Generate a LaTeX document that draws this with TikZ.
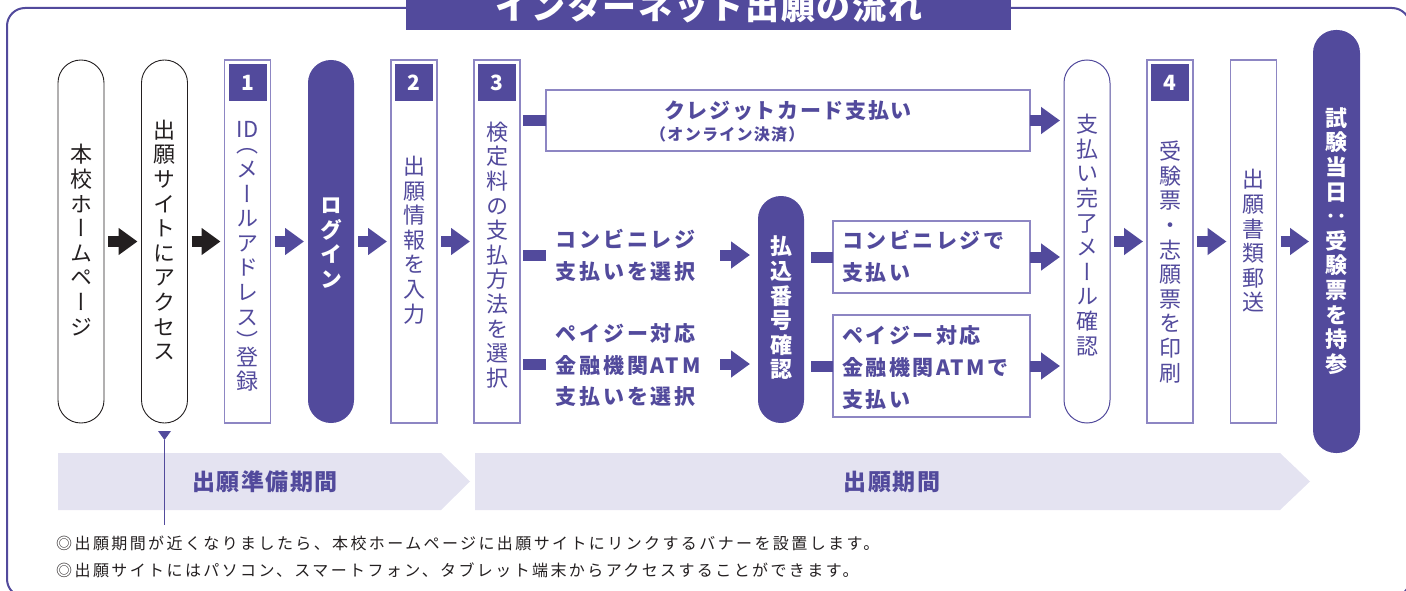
\documentclass[tikz,border=0pt]{standalone}
\usepackage{fontspec}
\setmainfont{Noto Sans CJK JP}
\newfontfamily\vjp{Noto Sans CJK JP}[RawFeature=+vert]
\usetikzlibrary{arrows.meta}
\definecolor{pcol}{HTML}{524A9C}
\definecolor{pline}{HTML}{8D86C3}
\definecolor{band}{HTML}{E4E3F1}
\definecolor{ink}{HTML}{231F20}
\tikzset{
  col/.style={minimum width=46pt, minimum height=363pt, inner sep=0pt, outer sep=0pt},
  pillw/.style={col, draw=ink, line width=0.9pt, fill=white, rounded corners=22.9pt},
  pillp/.style={col, fill=pcol, rounded corners=22.9pt},
  pillo/.style={col, draw=pcol, line width=1pt, fill=white, rounded corners=22.9pt},
  boxp/.style={col, draw=pline, line width=1.2pt, fill=white},
  hbox/.style={draw=pline, line width=1.2pt, fill=white, inner sep=0pt, outer sep=0pt},
  numbox/.style={fill=pcol, text=white, minimum width=38pt, minimum height=37pt, inner sep=0pt, font=\bfseries\fontsize{21}{21}\selectfont},
  vtext/.style={font=\vjp\fontsize{22}{24.6}\selectfont, align=center, inner sep=0pt},
  vbold/.style={font=\vjp\bfseries\fontsize{22}{24.6}\selectfont, align=center, inner sep=0pt, text=white},
  htext/.style={font=\bfseries\fontsize{21}{31.5}\selectfont\addfontfeature{LetterSpace=14}, align=left, inner sep=0pt, text=pcol},
  bandtext/.style={font=\bfseries\fontsize{23}{23}\selectfont\addfontfeature{LetterSpace=6}, inner sep=0pt, text=pcol},
  notetext/.style={font=\fontsize{16}{18}\selectfont\addfontfeature{LetterSpace=15}, inner sep=0pt, text=ink, anchor=west},
  barrow/.style={line width=11pt, -{Triangle[length=19pt,width=26pt]}, shorten <=4pt, shorten >=4pt},
  stub/.style={pcol, line width=11pt},
}
\begin{document}
\begin{tikzpicture}[x=1pt,y=-1pt]
\useasboundingbox (0,0) rectangle (1406,591);
% outer frame and title
\draw[pcol, line width=2pt, rounded corners=18pt] (7,8) rectangle (1410,597);
\fill[pcol] (406,-5) rectangle (1011,30);
\node[font=\bfseries\fontsize{34}{34}\selectfont\addfontfeature{LetterSpace=5}, text=white, anchor=base, inner sep=0pt] (title) at (709,20) {インターネット出願の流れ};

% phase bands
\fill[band] (58,453) -- (441,453) -- (470,481.5) -- (441,510) -- (58,510) -- cycle;
\fill[band] (475,453) -- (1280,453) -- (1310,481.5) -- (1280,510) -- (475,510) -- cycle;
\node[bandtext] (band1) at (265,481.5) {出願準備期間};
\node[bandtext] (band2) at (892,481.5) {出願期間};

% columns
\node[pillw] (p1) at (81,241.5) {};
\node[vtext, text=ink] (t1) at (81,240) {本\\校\\ホ\\ー\\ム\\ペ\\ー\\ジ};
\node[pillw] (p2) at (164.5,241.5) {};
\node[vtext, text=ink] (t2) at (164.5,240) {出\\願\\サ\\イ\\ト\\に\\ア\\ク\\セ\\ス};

\node[boxp] (b1) at (247.5,241.5) {};
\node[numbox, anchor=north] (n1) at ([yshift=-4pt]b1.north) {1};
\node[vtext, text=pcol, anchor=north] (t3) at (247.5,121) {ID\\[-9pt]（\\メ\\ー\\ル\\ア\\ド\\レ\\ス\\）\\[-9pt]登\\録};

\node[pillp] (p4) at (331,241.5) {};
\node[vbold] (t4) at (331,243) {ロ\\グ\\イ\\ン};

\node[boxp] (b2) at (414,241.5) {};
\node[numbox, anchor=north] (n2) at ([yshift=-4pt]b2.north) {2};
\node[vtext, text=pcol] (t5) at (414,240) {出\\願\\情\\報\\を\\入\\力};

\node[boxp] (b3) at (497,241.5) {};
\node[numbox, anchor=north] (n3) at ([yshift=-4pt]b3.north) {3};
\node[vtext, text=pcol] (t6) at (497,255) {検\\定\\料\\の\\支\\払\\方\\法\\を\\選\\択};

% payment branches
\node[hbox, minimum width=484pt, minimum height=61pt] (credit) at (788,120.5) {};
\node[htext, font=\bfseries\fontsize{21}{21}\selectfont\addfontfeature{LetterSpace=8}] (ct1) at (788,110.5) {クレジットカード支払い};
\node[htext, font=\bfseries\fontsize{16}{16}\selectfont\addfontfeature{LetterSpace=8}, anchor=west] (ct2) at (650,134.5) {（オンライン決済）};

\node[htext, anchor=west] (cs) at (555,255.5) {コンビニレジ\\支払いを選択};
\node[htext, anchor=west] (ps) at (555,365.5) {ペイジー対応\\金融機関ATM\\支払いを選択};

\node[pillp, minimum height=227pt] (harai) at (781,309.5) {};
\node[vbold] (t7) at (781,308) {払\\込\\番\\号\\確\\認};

\node[hbox, minimum width=197pt, minimum height=72pt] (conv) at (931.5,257) {};
\node[htext, anchor=west, font=\bfseries\fontsize{21}{32}\selectfont\addfontfeature{LetterSpace=12}] (convt) at (842,256) {コンビニレジで\\支払い};
\node[hbox, minimum width=197pt, minimum height=102pt] (pay) at (931.5,366) {};
\node[htext, anchor=west, font=\bfseries\fontsize{21}{32}\selectfont\addfontfeature{LetterSpace=12}] (payt) at (842,367.5) {ペイジー対応\\金融機関ATMで\\支払い};

\node[pillo] (done) at (1087,241.5) {};
\node[vtext, text=pcol] (t8) at (1087,235) {支\\払\\い\\完\\了\\メ\\ー\\ル\\確\\認};

\node[boxp] (b4) at (1170,241.5) {};
\node[numbox, anchor=north] (n4) at ([yshift=-4pt]b4.north) {4};
\node[vtext, text=pcol] (t9) at (1170,262) {受\\験\\票\\・\\志\\願\\票\\を\\印\\刷};

\node[boxp] (b5) at (1253.5,241.5) {};
\node[vtext, text=pcol] (t10) at (1253.5,241) {出\\願\\書\\類\\郵\\送};

\node[pillp, minimum width=47pt, minimum height=423pt] (exam) at (1336.5,241.5) {};
\node[vbold] (t11) at (1336.5,241) {試\\験\\当\\日\\{\rmfamily\bfseries ‥}\\受\\験\\票\\を\\持\\参};

% main arrows
\draw[barrow, ink] (p1) -- (p2);
\draw[barrow, ink] (p2) -- (b1);
\draw[barrow, pcol] (b1) -- (p4);
\draw[barrow, pcol] (p4) -- (b2);
\draw[barrow, pcol] (b2) -- (b3);
\draw[barrow, pcol] (done) -- (b4);
\draw[barrow, pcol] (b4) -- (b5);
\draw[barrow, pcol] (b5) -- (exam.west |- b5.east);

% branch connectors
\coordinate (csend) at (546,255);
\coordinate (psend) at (546,364);
\coordinate (csa) at (720,255);
\coordinate (psa) at (720,364);
\draw[stub] ([xshift=3pt]b3.east |- credit.west) -- (credit.west);
\draw[stub] ([xshift=3pt]b3.east |- csend) -- (csend);
\draw[stub] ([xshift=3pt]b3.east |- psend) -- (psend);
\draw[barrow, pcol, shorten <=0pt, shorten >=8pt] (csa) -- (csa -| harai.west);
\draw[barrow, pcol, shorten <=0pt, shorten >=8pt] (psa) -- (psa -| harai.west);
\draw[stub] ([xshift=7pt]harai.east |- conv.west) -- (conv.west);
\draw[stub] ([xshift=7pt]harai.east |- pay.west) -- (pay.west);
\draw[barrow, pcol, shorten <=0pt] (credit.east) -- (done.west |- credit.east);
\draw[barrow, pcol, shorten <=0pt] (conv.east) -- (done.west |- conv.east);
\draw[barrow, pcol, shorten <=0pt] (pay.east) -- (done.west |- pay.east);

% pointer and notes
\coordinate (ptr) at (164.5,525);
\fill[pcol] ([xshift=-6.5pt,yshift=-8pt]p2.south) -- ([xshift=6.5pt,yshift=-8pt]p2.south) -- ([yshift=-17pt]p2.south) -- cycle;
\draw[pcol, line width=1.3pt] ([yshift=-17pt]p2.south) -- (ptr);
\node[notetext] (note1) at (56,543.5) {◎出願期間が近くなりましたら、本校ホームページに出願サイトにリンクするバナーを設置します。};
\node[notetext] (note2) at (56,570) {◎出願サイトにはパソコン、スマートフォン、タブレット端末からアクセスすることができます。};
\end{tikzpicture}
\end{document}
